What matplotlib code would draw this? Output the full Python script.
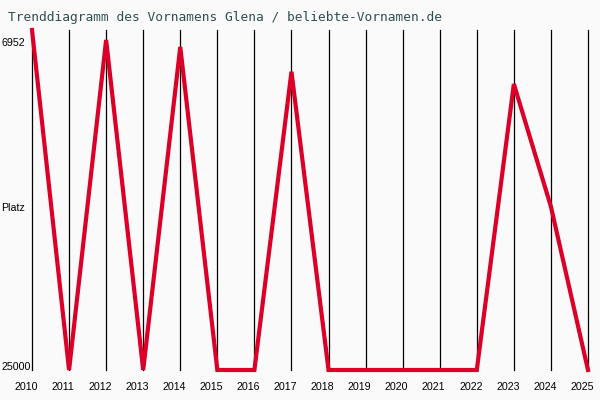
import matplotlib
matplotlib.use("Agg")
import matplotlib.pyplot as plt
import matplotlib.transforms as mtransforms

years = [2010, 2011, 2012, 2013, 2014, 2015, 2016, 2017, 2018, 2019, 2020, 2021, 2022, 2023, 2024, 2025]
ranks = [6952, 25000, 7480, 25000, 7850, 25000, 25000, 9170, 25000, 25000, 25000, 25000, 25000, 9820, 16330, 25000]
best_rank = 6952
worst_rank = 25000
title = "Trenddiagramm des Vornamens Glena / beliebte-Vornamen.de"

bg = "#FAFAFA"
fig = plt.figure(figsize=(6, 4), dpi=100, facecolor=bg)
ax = fig.add_axes([32/600, 30/400, 556/600, 340/400], facecolor=bg)

for y in years:
    ax.axvline(y, color="black", lw=0.9, zorder=1, clip_on=False)

ax.plot(years, ranks, color="#DC0028", lw=3.0, zorder=3, clip_on=False,
        solid_joinstyle="miter")

ax.set_xlim(years[0], years[-1])
ax.set_ylim(worst_rank, best_rank)
for s in ax.spines.values():
    s.set_visible(False)

ax.set_xticks(years)
ax.set_xticklabels([str(y) for y in years], family="Liberation Sans", fontsize=7.7)
ax.tick_params(axis="x", length=0, pad=9)
shift = mtransforms.ScaledTranslation(-6/100, 0, fig.dpi_scale_trans)
for lab in ax.get_xticklabels():
    lab.set_transform(lab.get_transform() + shift)
ax.set_yticks([])

trans = mtransforms.blended_transform_factory(fig.transFigure, ax.transData)
def off(dy_px):
    return trans + mtransforms.ScaledTranslation(0, dy_px/100, fig.dpi_scale_trans)

ax.text(1/600, best_rank, "6952", transform=off(-12.5), ha="left", va="center",
        family="Liberation Sans", fontsize=7.7)
ax.text(1/600, worst_rank, "25000", transform=off(3.5), ha="left", va="center",
        family="Liberation Sans", fontsize=7.7)
ax.text(1/600, (best_rank + worst_rank) / 2, "Platz", transform=off(-8), ha="left", va="center",
        family="Liberation Sans", fontsize=7.7)

fig.text(8/600, 1 - 18/400, title, ha="left", va="center",
         family="DejaVu Sans Mono", fontsize=9.3, color="#2F4F4F")

fig.savefig("out.png", dpi=100, facecolor=bg)
